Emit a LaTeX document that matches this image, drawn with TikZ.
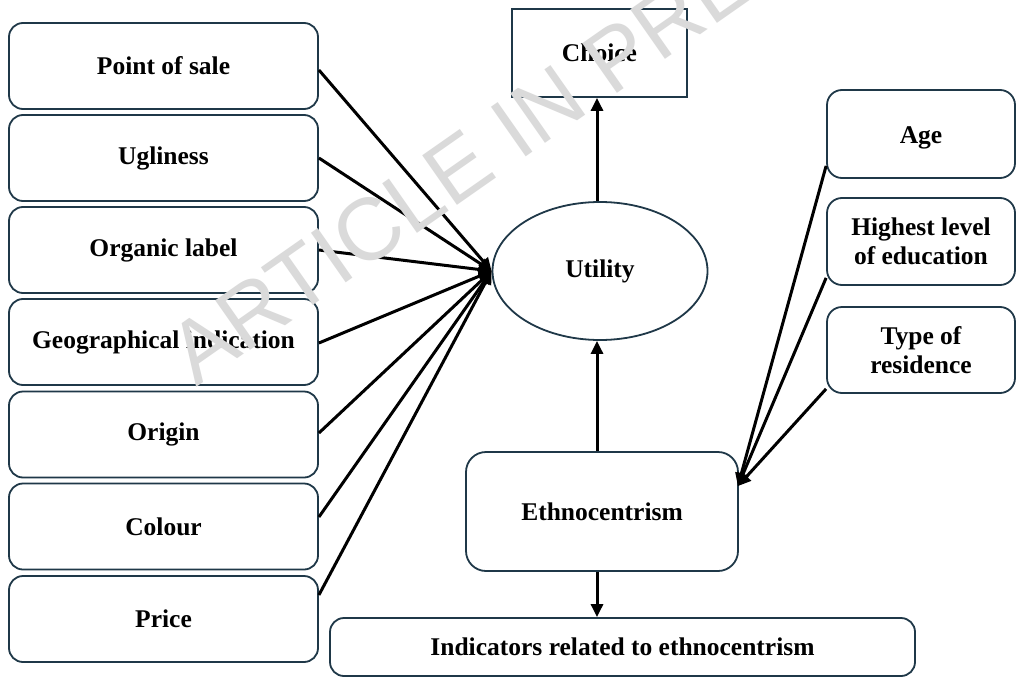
\documentclass[tikz,border=0pt]{standalone}
\usepackage{fontspec}
\setmainfont{Liberation Serif}
\newfontfamily\wmfont{Liberation Sans}
\usetikzlibrary{shapes.geometric,arrows.meta,calc}
\definecolor{bord}{RGB}{31,56,72}
\definecolor{wmgray}{RGB}{218,218,218}
\begin{document}
\begin{tikzpicture}[x=1pt,y=-1pt,
  txt/.style={font=\fontsize{25.5}{29}\selectfont\bfseries, align=center, text=black},
  lbox/.style={txt, draw=bord, line width=1.8pt, rounded corners=14pt, minimum width=309pt, minimum height=86pt, inner sep=0pt},
  rbox/.style={txt, draw=bord, line width=1.8pt, rounded corners=15pt, minimum width=188pt, inner sep=0pt},
  arr/.style={line width=3pt, draw=black, -{Triangle[length=13pt,width=12pt]}}
]
\useasboundingbox (0,0) rectangle (1017,677);
\fill[white] (0,0) rectangle (1017,677);

% left attribute boxes
\node[lbox] (b1) at (163.5,66)    {Point of sale};
\node[lbox] (b2) at (163.5,158)   {Ugliness};
\node[lbox] (b3) at (163.5,250)   {Organic label};
\node[lbox] (b4) at (163.5,342)   {Geographical indication};
\node[lbox] (b5) at (163.5,434.5) {Origin};
\node[lbox] (b6) at (163.5,526.5) {Colour};
\node[lbox] (b7) at (163.5,619)   {Price};

% centre
\node[txt, draw=bord, line width=1.8pt, minimum width=175pt, minimum height=88pt, inner sep=0pt] (choice) at (599.5,53) {Choice};
\node[txt, ellipse, draw=bord, line width=1.8pt, minimum width=215pt, minimum height=138pt, inner sep=0pt] (util) at (600,271) {Utility};
\node[txt, draw=bord, line width=1.8pt, rounded corners=20pt, minimum width=272pt, minimum height=119pt, inner sep=0pt] (ethno) at (602,511.5) {Ethnocentrism};
\node[txt, draw=bord, line width=1.8pt, rounded corners=14pt, minimum width=585pt, minimum height=58pt, inner sep=0pt] (ind) at (622.5,647) {Indicators related to ethnocentrism};

% right socio-demographic boxes
\node[rbox, minimum height=88pt] (age)  at (921,134)   {\raisebox{-4pt}[\height][\depth]{Age}};
\node[rbox, minimum height=87pt] (high) at (921,241.5) {Highest level\\of education};
\node[rbox, minimum height=86pt] (res)  at (921,350)   {Type of\\residence};

% connectors: attributes -> utility
\draw[arr] ($(b1.east)+(0,4)$)    -- (util.west);
\draw[arr] (b2.east)              -- (util.west);
\draw[arr] (b3.east)              -- (util.west);
\draw[arr] ($(b4.east)+(0,1)$)    -- (util.west);
\draw[arr] ($(b5.east)+(0,-1.5)$) -- (util.west);
\draw[arr] ($(b6.east)+(0,-9.5)$) -- (util.west);
\draw[arr] ($(b7.east)+(0,-24)$)  -- (util.west);

% utility -> choice, ethnocentrism -> utility, ethnocentrism -> indicators
\draw[arr] ($(util.north)+(-3,0)$) -- ($(util.north |- choice.south)+(-3,0)$);
\draw[arr] ($(util.south |- ethno.north)+(-3,0)$) -- ($(util.south)+(-3,0)$);
\draw[arr] ($(util.south |- ethno.south)+(-3,0)$) -- ($(util.south |- ind.north)+(-3,0)$);

% socio-demographics -> ethnocentrism
\coordinate (ein) at ($(ethno.north east)+(-1,35)$);
\draw[arr] ($(age.south west)+(0,-13)$) -- (ein);
\draw[arr] ($(high.south west)+(0,-8)$) -- (ein);
\draw[arr] ($(res.south west)+(0,-5)$)  -- (ein);

% watermark
\begin{scope}
\clip (0,0) rectangle (1017,677);
\node[rotate=35, anchor=base west, inner sep=0pt, text=wmgray, font=\fontsize{88}{88}\selectfont\wmfont] (wm) at (196,388) {ARTICLE IN PRESS};
\end{scope}
\end{tikzpicture}
\end{document}
